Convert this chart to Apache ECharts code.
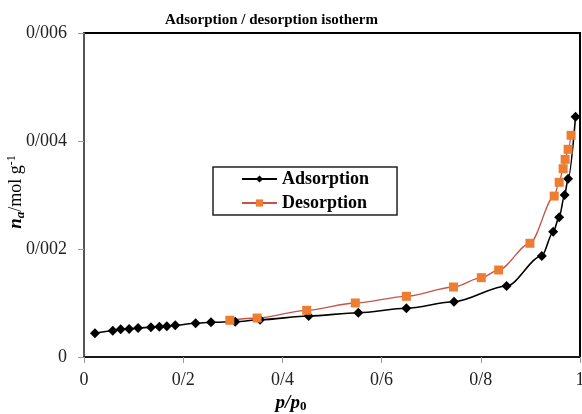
<!DOCTYPE html>
<html><head><meta charset="utf-8">
<script src="https://cdn.jsdelivr.net/npm/echarts@6/dist/echarts.min.js"></script>
<style>html,body{margin:0;padding:0;background:#fff}#c{width:582px;height:414px}</style>
</head><body><div id="c"></div>
<script>
const adsX = [0.022,0.058,0.074,0.091,0.109,0.135,0.152,0.167,0.184,0.225,0.256,0.305,0.355,0.453,0.553,0.650,0.746,0.852,0.923,0.946,0.958,0.969,0.976,0.991];
const adsY = [0.000439,0.000487,0.000513,0.000519,0.000537,0.000550,0.000561,0.000569,0.000587,0.000624,0.000643,0.000654,0.000691,0.000759,0.000820,0.000902,0.001024,0.001315,0.00187,0.00232,0.00259,0.00300,0.00330,0.00445];
const desX = [0.294,0.349,0.449,0.547,0.650,0.745,0.801,0.836,0.899,0.948,0.958,0.966,0.970,0.976,0.982];
const desY = [0.000680,0.000722,0.000865,0.001000,0.001124,0.001296,0.001469,0.001611,0.002106,0.00298,0.003235,0.003487,0.00366,0.003846,0.004106];
const xTicks = [0,0.2,0.4,0.6,0.8,1];
const yTicks = [0,0.002,0.004,0.006];

const serif = '"Liberation Serif","Times New Roman",serif';
const fmt = v => String(+v.toFixed(4)).replace('.', '/');
const chart = echarts.init(document.getElementById('c'));
chart.setOption({
  animation:false,
  title:{text:'Adsorption / desorption isotherm',left:165,top:13,padding:0,
    textStyle:{fontFamily:serif,fontWeight:'bold',fontSize:15,color:'#000'}},
  grid:{left:84,right:2,top:33,bottom:57,containLabel:false,outerBoundsMode:'none',
    show:true,borderColor:'#000',borderWidth:2},
  legend:{orient:'vertical',left:213,top:167,itemWidth:35,itemHeight:9,itemGap:6,
    borderColor:'#222',borderWidth:1.5,padding:[3,28,3,28],
    textStyle:{fontFamily:serif,fontWeight:'bold',fontSize:18,lineHeight:18,color:'#000'},
    data:['Adsorption','Desorption']},
  xAxis:{type:'value',min:xTicks[0],max:xTicks[xTicks.length-1],interval:0.2,
    axisLine:{lineStyle:{color:'#222',width:1.5}},
    axisTick:{show:true,length:6,inside:false,lineStyle:{color:'#999'}},
    splitLine:{show:false},
    axisLabel:{fontFamily:serif,fontSize:18,color:'#222',margin:14,formatter:v=>fmt(v)}},
  yAxis:{type:'value',min:yTicks[0],max:yTicks[yTicks.length-1],interval:0.002,
    axisLine:{show:true,lineStyle:{color:'#555',width:2}},
    axisTick:{show:true,length:6,inside:false,lineStyle:{color:'#999'}},
    splitLine:{show:false},
    axisLabel:{fontFamily:serif,fontSize:18,color:'#222',margin:17,formatter:v=>fmt(v)}},
  graphic:[
    {type:'text',x:291,y:403,z:10,style:{
      text:'{i|p}{i|/}{i|p}{s|0}',align:'center',verticalAlign:'middle',
      rich:{
        i:{fontFamily:serif,fontSize:19,fontWeight:'bold',fontStyle:'italic',fill:'#000'},
        s:{fontFamily:serif,fontSize:13,fontWeight:'bold',fill:'#000',padding:[8,0,0,0]}}}},
    {type:'text',x:16,y:192,rotation:Math.PI/2,z:10,style:{
      text:'{i|n}{s|a}{t|/mol g}{p|-1}',align:'center',verticalAlign:'middle',
      rich:{
        i:{fontFamily:serif,fontSize:19,fontWeight:'bold',fontStyle:'italic',fill:'#000'},
        s:{fontFamily:serif,fontSize:13,fontStyle:'italic',fontWeight:'bold',fill:'#000',padding:[9,0,0,0]},
        t:{fontFamily:serif,fontSize:18,fill:'#000'},
        p:{fontFamily:serif,fontSize:12,fill:'#000',padding:[0,0,9,0]}}}}
  ],
  series:[
    {name:'Adsorption',type:'line',smooth:0.3,smoothMonotone:'x',
      data:adsX.map((x,i)=>[x,adsY[i]]),
      symbol:'diamond',symbolSize:10,
      itemStyle:{color:'#000'},lineStyle:{color:'#000',width:1.6}},
    {name:'Desorption',type:'line',smooth:0.3,smoothMonotone:'x',
      data:desX.map((x,i)=>[x,desY[i]]),
      symbol:'rect',symbolSize:9,
      itemStyle:{color:'#ed7d31'},lineStyle:{color:'#c8524a',width:1.3}}
  ]
});
</script></body></html>
